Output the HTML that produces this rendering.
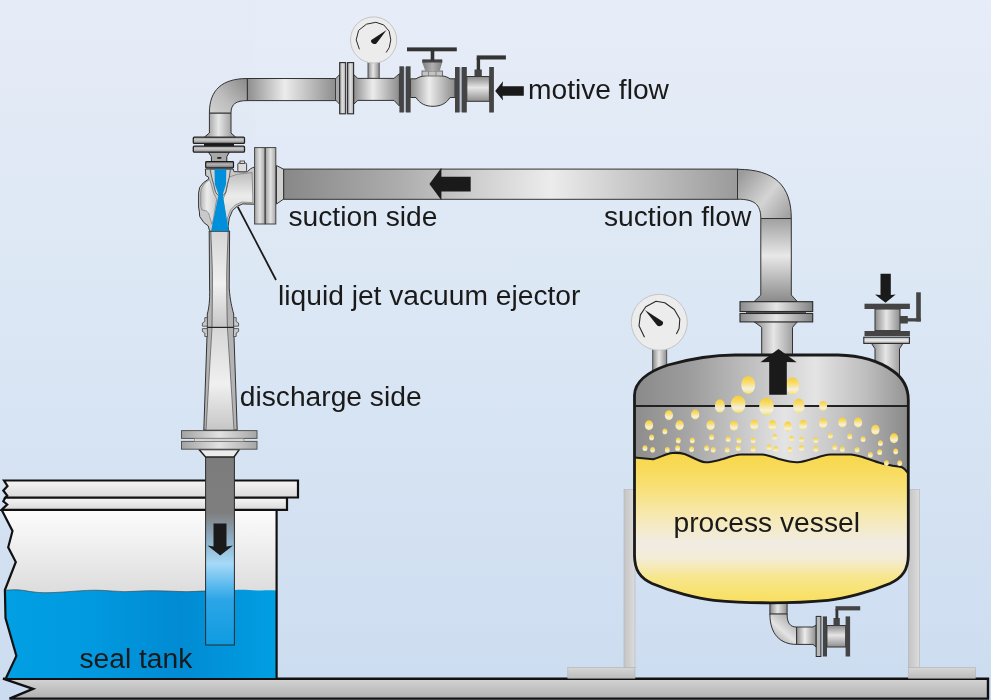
<!DOCTYPE html>
<html><head><meta charset="utf-8"><title>liquid jet vacuum ejector</title>
<style>
html,body{margin:0;padding:0;background:#dfe8f5;}
body{width:991px;height:700px;overflow:hidden;}
svg{display:block;}
svg{will-change:transform;opacity:0.9999;}
text{font-family:"Liberation Sans",sans-serif;font-size:28.2px;fill:#1a1a1a;}
</style></head><body>
<svg width="991" height="700" viewBox="0 0 991 700">
<defs>
<linearGradient id="bg" x1="0" y1="0" x2="0" y2="1">
<stop offset="0" stop-color="#e7edf8"/><stop offset="0.5" stop-color="#dae6f4"/><stop offset="1" stop-color="#ccdcf0"/>
</linearGradient>
<!-- across gradient for vertical pipes (left->right) -->
<linearGradient id="vp" x1="0" y1="0" x2="1" y2="0">
<stop offset="0" stop-color="#8a8a8a"/><stop offset="0.45" stop-color="#e6e6e6"/><stop offset="1" stop-color="#8e8e8e"/>
</linearGradient>
<linearGradient id="hp" x1="0" y1="0" x2="0" y2="1">
<stop offset="0" stop-color="#8a8a8a"/><stop offset="0.45" stop-color="#e6e6e6"/><stop offset="1" stop-color="#8e8e8e"/>
</linearGradient>
<!-- top motive pipe along-length gradient -->
<linearGradient id="topPipe" x1="0" y1="0" x2="1" y2="0">
<stop offset="0" stop-color="#8e8e8e"/><stop offset="0.42" stop-color="#ececec"/><stop offset="1" stop-color="#8c8c8c"/>
</linearGradient>
<linearGradient id="motElbow" gradientUnits="userSpaceOnUse" x1="247" y1="82" x2="213" y2="113">
<stop offset="0" stop-color="#8e8e8e"/><stop offset="0.6" stop-color="#bdbdbd"/><stop offset="1" stop-color="#cfcfcf"/>
</linearGradient>
<linearGradient id="sucPipe" gradientUnits="userSpaceOnUse" x1="283" y1="0" x2="738" y2="0">
<stop offset="0" stop-color="#888888"/><stop offset="0.257" stop-color="#adadad"/><stop offset="0.433" stop-color="#d0d0d0"/><stop offset="0.589" stop-color="#ececec"/><stop offset="0.785" stop-color="#c4c4c4"/><stop offset="1" stop-color="#9a9a9a"/>
</linearGradient>
<linearGradient id="flLight" x1="0" y1="0" x2="0" y2="1">
<stop offset="0" stop-color="#b8b8b8"/><stop offset="0.5" stop-color="#ececec"/><stop offset="1" stop-color="#a8a8a8"/>
</linearGradient>
<linearGradient id="flLightH" x1="0" y1="0" x2="1" y2="0">
<stop offset="0" stop-color="#a2a2a2"/><stop offset="0.5" stop-color="#e2e2e2"/><stop offset="1" stop-color="#a6a6a6"/>
</linearGradient>
<linearGradient id="water" gradientUnits="userSpaceOnUse" x1="5" y1="0" x2="277" y2="0">
<stop offset="0" stop-color="#009fe3"/><stop offset="0.3" stop-color="#009ae0"/><stop offset="0.64" stop-color="#008bd3"/><stop offset="0.85" stop-color="#0096dc"/><stop offset="1" stop-color="#009fe3"/>
</linearGradient>
<linearGradient id="tankAir" gradientUnits="userSpaceOnUse" x1="0" y1="510" x2="0" y2="594">
<stop offset="0" stop-color="#fcfcfc"/><stop offset="0.4" stop-color="#f0f0f0"/><stop offset="1" stop-color="#dcdcdc"/>
</linearGradient>
<linearGradient id="disPipe" gradientUnits="userSpaceOnUse" x1="0" y1="456" x2="0" y2="645">
<stop offset="0" stop-color="#7c7c7c"/><stop offset="0.3" stop-color="#7e7e7e"/><stop offset="0.44" stop-color="#8eaec4"/><stop offset="0.57" stop-color="#a6d9f8"/><stop offset="0.76" stop-color="#2ba6e7"/><stop offset="1" stop-color="#0f9be0"/>
</linearGradient>
<linearGradient id="liquid" gradientUnits="userSpaceOnUse" x1="0" y1="455" x2="0" y2="603">
<stop offset="0" stop-color="#f8d74a"/><stop offset="0.2" stop-color="#f8df70"/><stop offset="0.42" stop-color="#f6e9b4"/><stop offset="0.6" stop-color="#f1ece4"/><stop offset="0.7" stop-color="#f3ecd6"/><stop offset="0.83" stop-color="#f7e68c"/><stop offset="1" stop-color="#f9df5c"/>
</linearGradient>
<linearGradient id="vesselGas" gradientUnits="userSpaceOnUse" x1="634" y1="0" x2="908" y2="0">
<stop offset="0" stop-color="#8c8c8c"/><stop offset="0.2" stop-color="#a6a6a6"/><stop offset="0.55" stop-color="#e4e4e4"/><stop offset="0.75" stop-color="#c4c4c4"/><stop offset="1" stop-color="#8a8a8a"/>
</linearGradient>
<linearGradient id="dome" gradientUnits="userSpaceOnUse" x1="634" y1="0" x2="908" y2="0">
<stop offset="0" stop-color="#8a8a8a"/><stop offset="0.2" stop-color="#9c9c9c"/><stop offset="0.66" stop-color="#e4e4e4"/><stop offset="0.85" stop-color="#bdbdbd"/><stop offset="1" stop-color="#949494"/>
</linearGradient>
<linearGradient id="floor" x1="0" y1="0" x2="0" y2="1">
<stop offset="0" stop-color="#d4d4d4"/><stop offset="1" stop-color="#b0b0b0"/>
</linearGradient>
<linearGradient id="leg" x1="0" y1="0" x2="1" y2="0">
<stop offset="0" stop-color="#c4c4c4"/><stop offset="1" stop-color="#dcdcdc"/>
</linearGradient>
<linearGradient id="foot" x1="0" y1="0" x2="0" y2="1">
<stop offset="0" stop-color="#d6d6d6"/><stop offset="1" stop-color="#bcbcbc"/>
</linearGradient>
<linearGradient id="bub" x1="0" y1="0" x2="0" y2="1">
<stop offset="0" stop-color="#f7cc35"/><stop offset="0.35" stop-color="#f9dd6c"/><stop offset="0.72" stop-color="#f3f0e2"/><stop offset="0.9" stop-color="#f8e98e"/><stop offset="1" stop-color="#f7dc58"/>
</linearGradient>
<linearGradient id="ejBody" x1="0" y1="0" x2="1" y2="0">
<stop offset="0" stop-color="#b8b8b8"/><stop offset="0.4" stop-color="#ececec"/><stop offset="1" stop-color="#c8c8c8"/>
</linearGradient>
<linearGradient id="sucElbow" gradientUnits="userSpaceOnUse" x1="740" y1="174" x2="790" y2="214">
<stop offset="0" stop-color="#9a9a9a"/><stop offset="0.55" stop-color="#d4d4d4"/><stop offset="1" stop-color="#a2a2a2"/>
</linearGradient>
<linearGradient id="vpl" x1="0" y1="0" x2="0" y2="1">
<stop offset="0" stop-color="#a0a0a0"/><stop offset="0.45" stop-color="#e8e8e8"/><stop offset="1" stop-color="#8a8a8a"/>
</linearGradient>
<linearGradient id="flDarkH" x1="0" y1="0" x2="1" y2="0">
<stop offset="0" stop-color="#8c8c8c"/><stop offset="0.5" stop-color="#e6e6e6"/><stop offset="1" stop-color="#828282"/>
</linearGradient>
<linearGradient id="drainG" gradientUnits="userSpaceOnUse" x1="772" y1="642" x2="794" y2="616">
<stop offset="0" stop-color="#9a9a9a"/><stop offset="0.45" stop-color="#e4e4e4"/><stop offset="1" stop-color="#a0a0a0"/>
</linearGradient>
<linearGradient id="ejBodyR" x1="0" y1="0" x2="0" y2="1">
<stop offset="0" stop-color="#bdbdbd"/><stop offset="0.45" stop-color="#ececec"/><stop offset="1" stop-color="#d0d0d0"/>
</linearGradient>
<linearGradient id="diffIn" x1="0" y1="0" x2="0" y2="1">
<stop offset="0" stop-color="#d6d6d6"/><stop offset="0.55" stop-color="#f0f0f0"/><stop offset="1" stop-color="#c6c6c6"/>
</linearGradient>
<linearGradient id="bonnet" x1="0" y1="0" x2="1" y2="0">
<stop offset="0" stop-color="#7c7c7c"/><stop offset="0.5" stop-color="#b0b0b0"/><stop offset="1" stop-color="#808080"/>
</linearGradient>
<linearGradient id="flMid" x1="0" y1="0" x2="0" y2="1">
<stop offset="0" stop-color="#969696"/><stop offset="0.4" stop-color="#cacaca"/><stop offset="1" stop-color="#8e8e8e"/>
</linearGradient>
<linearGradient id="flMid2" x1="0" y1="0" x2="0" y2="1">
<stop offset="0" stop-color="#7c7c7c"/><stop offset="0.45" stop-color="#b4b4b4"/><stop offset="1" stop-color="#747474"/>
</linearGradient>
<linearGradient id="lid" x1="0" y1="0" x2="0" y2="1">
<stop offset="0" stop-color="#f6f6f6"/><stop offset="1" stop-color="#dadada"/>
</linearGradient>
</defs>
<rect width="991" height="700" fill="url(#bg)"/>

<!-- ===== floor ===== -->
<path d="M3,678.7 L988,678.7 L988,698.6 L9.5,698.6 L33,688.8 Z" fill="url(#floor)" stroke="#111" stroke-width="2.4" stroke-linejoin="miter"/>
<!-- ===== seal tank ===== -->
<!-- interior air -->
<path d="M1.6,509.8 L276.6,509.8 L276.6,678 L6,678 L16.4,656 L5.5,618 L4.9,590 L15.8,562 L8.2,547.3 L12.5,531 Z" fill="url(#tankAir)"/>
<!-- water -->
<path d="M4.9,590.3 C14,589.2 22,589.8 30,591.5 C40,593.2 50,592.8 60,592.2 C72,591.5 84,590.2 95,590.2 C110,590.2 120,592.5 135,591.3 C150,590 165,591 180,591.5 C190,592 200,591 206,591 L235,590 C245,589 255,591 262,590.5 C268,590 272,590.5 276.6,590.5 L276.6,678 L6,678 L16.4,656 L5.5,618 Z" fill="url(#water)"/>
<path d="M4.9,590.3 C14,589.2 22,589.8 30,591.5 C40,593.2 50,592.8 60,592.2 C72,591.5 84,590.2 95,590.2 C110,590.2 120,592.5 135,591.3 C150,590 165,591 180,591.5 C190,592 200,591 206,591" fill="none" stroke="#2a3a46" stroke-width="0.6"/>
<!-- tank outline: right wall + jagged left -->
<path d="M276.6,510 L276.6,678" fill="none" stroke="#111" stroke-width="2.2"/>
<path d="M1.6,509.8 L12.5,531 L8.2,547.3 L15.8,562 L4.9,590 L5.5,618 L16.4,656 L6,678" fill="none" stroke="#111" stroke-width="2.2" stroke-linejoin="miter"/>
<!-- lid plates -->
<path d="M5.5,497.5 L287,497.5 L287,509.8 L1.6,509.8 L7.2,504.5 L3.3,501.3 Z" fill="url(#lid)" stroke="#111" stroke-width="2.2"/>
<path d="M4,480.5 L298,480.5 L298,497.5 L5.5,497.5 L7.2,495.7 L3.3,490.5 L7.5,486 Z" fill="url(#lid)" stroke="#111" stroke-width="2.2"/>
<!-- ===== discharge pipe ===== -->
<rect x="205.6" y="456" width="28.8" height="189" fill="url(#disPipe)" stroke="#2a2a2a" stroke-width="1"/>
<!-- arrow down -->
<path d="M213.5,523.5 L226.5,523.5 L226.5,546.5 L233,545.5 L220.2,555.5 L207.5,545.5 L213.5,546.5 Z" fill="#1a1a1a"/>
<text x="79.5" y="667.5">seal tank</text>

<!-- ===== discharge flange + reducer ===== -->
<path d="M199,449.4 L239.4,449.4 L234,457 L205.6,457 Z" fill="#ececec" stroke="#222" stroke-width="1.5" stroke-linejoin="round"/>
<rect x="181.5" y="430.6" width="75.5" height="7.8" fill="url(#flLightH)" stroke="#555" stroke-width="1"/>
<rect x="181.5" y="441.4" width="75.5" height="7.8" fill="url(#flLightH)" stroke="#555" stroke-width="1"/>
<rect x="194.4" y="438.4" width="49.5" height="3" fill="#d6d6d6" stroke="#777" stroke-width="0.6"/>
<!-- ===== diffuser lower ===== -->
<path d="M207.3,327.4 L233.7,327.4 L237.2,430 L203.8,430 Z" fill="#b4b4b4" stroke="#333" stroke-width="1"/>
<path d="M212,327.4 L227.4,327.4 L234,430 L206,430 Z" fill="url(#diffIn)" stroke="#555" stroke-width="0.7"/>
<!-- ===== diffuser upper ===== -->
<path d="M209.2,231 L229.6,231 L229.2,288 C230,300 232,308 233.7,314 L233.7,327.4 L207.3,327.4 L207.3,314 C209,308 210,300 209.6,288 Z" fill="#b4b4b4" stroke="#333" stroke-width="1"/>
<path d="M210.8,231 L228.2,231 C227.6,250 226.8,262 226.7,276.5 C226.7,295 227,312 227.4,327.4 L212,327.4 C212.2,312 212.4,295 212.4,276.5 C212.3,262 211.4,250 210.8,231 Z" fill="url(#diffIn)" stroke="#444" stroke-width="0.7"/>
<!-- joint lugs -->
<path d="M207.3,317.6 L204.8,317.6 L204.8,321.5 L202.4,323 L202.4,326.2 L207.3,326.2 Z" fill="#c8c8c8" stroke="#444" stroke-width="0.8"/>
<path d="M207.3,328.6 L202.4,328.6 L202.4,331.5 L204.8,333 L204.8,336.5 L207.6,336.5 Z" fill="#c8c8c8" stroke="#444" stroke-width="0.8"/>
<path d="M233.7,317.6 L236.2,317.6 L236.2,321.5 L238.6,323 L238.6,326.2 L233.7,326.2 Z" fill="#c8c8c8" stroke="#444" stroke-width="0.8"/>
<path d="M233.7,328.6 L238.6,328.6 L238.6,331.5 L236.2,333 L236.2,336.5 L233.4,336.5 Z" fill="#c8c8c8" stroke="#444" stroke-width="0.8"/>
<line x1="207.3" y1="327.4" x2="233.7" y2="327.4" stroke="#222" stroke-width="1.1"/>
<!-- ===== ejector head ===== -->
<path d="M205.4,169.0 L205.7,175.6 L208.6,177.2 L208.6,179.1 L203.4,182.7 L199.7,187.4 L198.6,192.9 L198.6,207.0 L199.4,211.8 L199.7,216.5 L203.8,222.5 L208.2,225.9 L209.5,230.6 L209.5,231.2 L228.7,231.2 L228.1,226.2 L229.3,218.1 L232.5,210.5 L237.2,206.3 L242.7,203.9 L254.5,204.2 L254.5,167.1 L252.6,167.7 L250.5,168.8 L247.4,171.7 L237.2,171.7 L234.0,171.7 L233.2,169.0 Z" fill="#c9c9c9" stroke="#333" stroke-width="1" stroke-linejoin="round"/>
<path d="M209.7,179.5 L204.5,183.5 L201.3,188.5 L200.7,192.9 L200.7,206.3 L201.8,209.9 L206.5,211.0 L208.6,213.0 L210.1,218.1 L212.0,224.3 L213.6,218.1 L216.7,199.2 L213.6,192.9 L211.2,184.2 Z" fill="url(#ejBody)" stroke="#6a6a6a" stroke-width="0.6" stroke-linejoin="round"/>
<path d="M228.5,177.2 L237.2,174.3 L252.1,172.5 L252.9,202.6 L241.9,202.0 L235.6,204.7 L230.6,209.9 L227.7,217.4 L226.8,224.3 L224.9,211.8 L223.0,199.2 L225.8,192.9 L227.7,184.2 Z" fill="url(#ejBodyR)" stroke="#6a6a6a" stroke-width="0.6" stroke-linejoin="round"/>
<path d="M210.1,169.3 L230.4,169.3 L229.3,177.2 L227.4,184.2 L225.8,192.1 L223.3,195.3 L218.0,195.3 L215.5,192.1 L213.6,184.2 L211.7,177.2 Z" fill="#d2d2d2" stroke="#444" stroke-width="0.8" stroke-linejoin="round"/>
<path d="M214.5,169.3 L226.3,169.3 L226.0,184.2 L223.0,193.7 L223.0,196.0 L228.7,230.9 L211.1,230.9 L218.3,196.0 L218.3,193.7 L214.8,184.2 Z" fill="#0090db"/>
<!-- plug -->
<rect x="237.8" y="163" width="8.8" height="8.8" rx="1.2" fill="#dcdcdc" stroke="#333" stroke-width="0.9"/>
<rect x="240" y="161" width="4.5" height="2.5" fill="#dcdcdc" stroke="#333" stroke-width="0.8"/>
<!-- small dark flange under big flange -->
<path d="M208.4,152 L229.5,152 L226.8,156.6 L226.8,161.6 L211.4,161.6 L211.4,156.6 Z" fill="#a8a8a8" stroke="#2a2a2a" stroke-width="1"/>
<rect x="217.3" y="157" width="4" height="1.8" fill="#222"/>
<rect x="205.7" y="161.6" width="27.8" height="6.2" rx="0.8" fill="url(#flMid2)" stroke="#1a1a1a" stroke-width="1.2"/>
<!-- ===== top flange pair (horizontal plates) ===== -->
<rect x="204" y="143.2" width="30" height="3.2" fill="#1a1a1a"/>
<rect x="193.3" y="137.2" width="51.2" height="6.2" rx="1" fill="url(#flMid)" stroke="#222" stroke-width="1.3"/>
<rect x="193.3" y="146.2" width="51.2" height="6" rx="1" fill="url(#flMid)" stroke="#222" stroke-width="1.3"/>
<!-- ===== motive elbow + vertical ===== -->
<path d="M209.4,113 L231,113 L231,133 L235.5,137 L204.5,137 L209.4,133 Z" fill="url(#vp)" stroke="#333" stroke-width="1"/>
<path d="M247.4,78.5 C222,78.5 209.4,90 209.4,113 L231,113 C231,104 236,100.6 247.4,100.6 Z" fill="url(#motElbow)" stroke="#333" stroke-width="1"/>
<!-- ===== top horizontal pipe ===== -->
<rect x="247.4" y="78.5" width="89" height="22.1" fill="url(#topPipe)" stroke="#333" stroke-width="1"/>
<!-- ===== suction flange (vertical plates) ===== -->
<path d="M276.5,165.5 L283.7,169.3 L283.7,199 L276.5,204 Z" fill="#d0d0d0" stroke="#333" stroke-width="1"/>
<rect x="254.6" y="147.6" width="10.4" height="76.4" fill="url(#flLightH)" stroke="#444" stroke-width="1"/>
<rect x="265.4" y="147.6" width="10.4" height="76.4" fill="url(#flLightH)" stroke="#444" stroke-width="1"/>
<!-- leader line -->
<line x1="237.8" y1="206.8" x2="276" y2="280" stroke="#1a1a1a" stroke-width="1.8"/>

<!-- ===== motive line fittings ===== -->
<!-- pipe cone into flange pair 1 -->
<path d="M335.5,78.8 L339.7,74.5 L339.7,104.3 L335.5,100 Z" fill="#a8a8a8" stroke="#333" stroke-width="0.9"/>
<!-- spool between flange1 and valve -->
<path d="M353.6,74.5 L357.8,78.4 L394,78.4 L399.4,73.7 L399.4,106 L394,100.4 L357.8,100.4 L353.6,104.3 Z" fill="url(#topPipe)" stroke="#333" stroke-width="1"/>
<!-- gauge stem -->
<rect x="368" y="60" width="11.2" height="18.3" fill="url(#vp)" stroke="#444" stroke-width="0.9"/>
<!-- flange pair 1 (light) -->
<rect x="339.7" y="62.6" width="6" height="51.2" fill="url(#flLightH)" stroke="#2a2a2a" stroke-width="1.1"/>
<rect x="347.6" y="62.6" width="6" height="51.2" fill="url(#flLightH)" stroke="#2a2a2a" stroke-width="1.1"/>
<!-- gauge 1 -->
<circle cx="373.6" cy="40" r="23.1" fill="#ececec" stroke="#c4c4c4" stroke-width="1"/>
<polyline points="359.4,49.3 356.2,39.9 358.6,30.4 366.4,24.2 375.9,22.3 383.7,24.9 389.2,31.2 390.8,39.9 389.2,47.7 386.1,52.5" fill="none" stroke="#2a2a2a" stroke-width="1" stroke-linejoin="round"/>
<path d="M386.6,30.1 L376.4,43.4 C374.4,45.2 369.8,42.6 371.3,40 Z" fill="#1a1a1a"/>
<!-- valve body -->
<path d="M410.5,78.8 L416,78.8 C421,75.5 428,75.3 433,75.3 C438,75.3 446,75.5 450,78.8 L455,78.8 L455,97.5 L450,97.5 C446,104 440,106.3 433,106.3 C426,106.3 420,104 416,97.5 L410.5,97.5 Z" fill="url(#topPipe)" stroke="#333" stroke-width="1"/>
<!-- bonnet -->
<rect x="422" y="71" width="20.5" height="5" fill="#c4c4c4" stroke="#555" stroke-width="0.8"/>
<line x1="428.5" y1="71" x2="428.5" y2="76" stroke="#777" stroke-width="0.8"/>
<line x1="436" y1="71" x2="436" y2="76" stroke="#777" stroke-width="0.8"/>
<path d="M422.3,59.5 L442.2,59.5 L442.2,62.5 L439.6,71.3 L425.4,71.3 L422.3,62.5 Z" fill="url(#bonnet)"/><rect x="422.3" y="59.5" width="19.9" height="3" fill="#444"/>
<rect x="430.7" y="50.5" width="3.6" height="10" fill="#333"/>
<rect x="407" y="47.4" width="49.8" height="3.9" fill="#333"/>
<!-- dark flange pair 2 -->
<rect x="403.5" y="67" width="2.6" height="45" fill="#bcc6d8"/>
<rect x="399.4" y="66.3" width="4.5" height="46.2" fill="#444"/>
<rect x="405.8" y="66.3" width="4.8" height="46.2" fill="#444"/>
<!-- dark flange pair 3 -->
<rect x="459" y="67.5" width="3" height="44.5" fill="#bcc6d8"/>
<rect x="455" y="67" width="4.6" height="45.5" fill="#444"/>
<rect x="461.7" y="67" width="5.1" height="45.5" fill="#444"/>
<!-- cock body -->
<rect x="466.8" y="76.5" width="22.6" height="24.8" fill="url(#hp)" stroke="#333" stroke-width="1"/>
<rect x="489.2" y="67" width="4.7" height="45.5" fill="#444"/>
<!-- lever -->
<rect x="474.5" y="69.5" width="7.3" height="7" fill="#444"/>
<rect x="476.7" y="58" width="3.4" height="12" fill="#333"/>
<rect x="476.7" y="55.4" width="29.2" height="4.1" fill="#333"/>
<!-- motive arrow -->
<path d="M495.2,90.9 L503,81.3 L502.5,86.3 L523.8,86.3 L523.8,95.7 L502.5,95.7 L503,100.6 Z" fill="#1a1a1a"/>
<text x="528" y="98.6">motive flow</text>

<!-- ===== suction pipe ===== -->
<rect x="283.7" y="169.1" width="454" height="30.2" fill="url(#sucPipe)" stroke="#333" stroke-width="1"/>
<!-- suction elbow -->
<path d="M737.5,169.3 C775,169.3 791.3,186 791.3,218.5 L760.8,218.5 C760.8,204 754,199.2 737.5,199.2 Z" fill="url(#sucElbow)" stroke="#333" stroke-width="1"/>
<!-- vertical suction pipe -->
<path d="M760.8,218.5 L791.3,218.5 L791.3,295 L797.5,301.7 L754,301.7 L760.8,295 Z" fill="url(#vpl)" stroke="#333" stroke-width="1"/>
<!-- lower part to dome -->
<path d="M754,321.7 L797.5,321.7 L792.5,327.3 L792.5,358 L761.7,358 L761.7,327.3 Z" fill="url(#vp)" stroke="#333" stroke-width="1"/>
<!-- flange -->
<rect x="746" y="311.3" width="60" height="2.4" fill="#555"/>
<rect x="740" y="301.7" width="72.7" height="9.8" fill="url(#flDarkH)" stroke="#2a2a2a" stroke-width="1.1"/>
<rect x="740" y="313.5" width="72.7" height="8.4" fill="url(#flDarkH)" stroke="#2a2a2a" stroke-width="1.1"/>
<!-- suction arrow in pipe -->
<path d="M429.4,184 L441.4,167.7 L441.4,176.8 L470.7,176.8 L470.7,191.6 L441.4,191.6 L441.4,200.2 Z" fill="#1a1a1a"/>
<text x="288.5" y="226.3">suction side</text>
<text x="604" y="226.3">suction flow</text>
<text x="278" y="304.8">liquid jet vacuum ejector</text>
<text x="239.8" y="405.8">discharge side</text>

<!-- ===== legs ===== -->
<rect x="624" y="489.6" width="11" height="178.4" fill="url(#leg)" stroke="#b4b4b4" stroke-width="0.6"/>
<rect x="567.8" y="667.6" width="67.2" height="10.6" fill="url(#foot)" stroke="#b0b0b0" stroke-width="0.6"/>
<rect x="908.4" y="489.6" width="11" height="178.4" fill="url(#leg)" stroke="#b4b4b4" stroke-width="0.6"/>
<rect x="908.4" y="667.6" width="67" height="10.6" fill="url(#foot)" stroke="#b0b0b0" stroke-width="0.6"/>
<!-- ===== drain ===== -->
<rect x="769.9" y="600" width="17.2" height="14.2" fill="url(#vp)" stroke="#333" stroke-width="1"/>
<path d="M769.9,614 L787.1,614 C787.1,623 790,627 796.6,627 L796.6,644.4 C780,644.4 769.9,634 769.9,614 Z" fill="url(#drainG)" stroke="#333" stroke-width="1"/>
<path d="M796.6,627 L813,627 L816.2,625 L816.2,647 L813,644.4 L796.6,644.4 Z" fill="url(#topPipe)" stroke="#333" stroke-width="1"/>
<rect x="816.2" y="616.4" width="4.7" height="40.1" fill="#b8b8b8" stroke="#2a2a2a" stroke-width="1"/>
<rect x="822.8" y="616.4" width="4.2" height="40.1" fill="#444"/>
<rect x="826.9" y="625.5" width="18.8" height="21.5" fill="url(#hp)" stroke="#333" stroke-width="1"/>
<rect x="845.6" y="616.4" width="4.5" height="40.1" fill="#444"/>
<rect x="833.5" y="618" width="6.3" height="7.6" fill="#444"/>
<rect x="835.5" y="609" width="2.8" height="10" fill="#333"/>
<rect x="835.5" y="606.2" width="24.7" height="4.2" fill="#444"/>
<!-- ===== gauge2 stem, top valve pipe ===== -->
<rect x="652.7" y="348" width="14" height="26" fill="url(#vp)" stroke="#444" stroke-width="0.9"/>
<path d="M871.4,343.3 L903,343.3 L899.5,348.8 L899.5,380 L875,380 L875,348.8 Z" fill="url(#vp)" stroke="#333" stroke-width="1"/>
<!-- ===== vessel ===== -->
<path d="M634.5,406 L634.5,395 C635,380 650,371 668,365 C695,357.5 715,355 735,355 L838,355 C858,355.5 878,360 893,371 C903,378 908.3,388 908.3,400 L908.3,406 Z" fill="url(#dome)"/>
<rect x="634.5" y="405.5" width="273.8" height="70" fill="url(#vesselGas)"/>
<!-- liquid -->
<path d="M634.5,457.5 L653.3,459.2 C660,457.5 666,453.5 672.6,453 C677,452.7 681,453 684.5,454 C692,456.5 698,461.5 705.4,462.3 C711,462.5 717,460.5 723,459 C729,457 735,454.8 741,454.5 L762,454.5 C768,455 774,457.5 780,459.3 C786,461 792,462.5 797.7,462.3 C804,462 810,459.5 815.5,458 C820,456.5 825,454.8 830.4,454.5 L851,454.5 C856,455 861,456.5 866,458.2 C872,460 878,462.5 884,464 C890,465.5 897,466.3 902,467.2 C905,468.5 906.5,471 908.3,473.5 L908.3,555 C908.3,570 902,578 890,583.5 C870,592 845,598.5 828,600.3 C810,602 790,602.8 771,602.8 C752,602.8 732,602 714,600.3 C697,598.5 672,592 652,583.5 C640,578 634.5,570 634.5,555 Z" fill="url(#liquid)"/>
<path d="M634.5,457.5 L653.3,459.2 C660,457.5 666,453.5 672.6,453 C677,452.7 681,453 684.5,454 C692,456.5 698,461.5 705.4,462.3 C711,462.5 717,460.5 723,459 C729,457 735,454.8 741,454.5 L762,454.5 C768,455 774,457.5 780,459.3 C786,461 792,462.5 797.7,462.3 C804,462 810,459.5 815.5,458 C820,456.5 825,454.8 830.4,454.5 L851,454.5 C856,455 861,456.5 866,458.2 C872,460 878,462.5 884,464 C890,465.5 897,466.3 902,467.2 C905,468.5 906.5,471 908.3,473.5" fill="none" stroke="#1a1a1a" stroke-width="2.1" stroke-linejoin="round"/>
<line x1="634.5" y1="406" x2="908.3" y2="406" stroke="#222" stroke-width="2"/>
<ellipse cx="748.2" cy="384.9" rx="7.0" ry="9.0" fill="url(#bub)"/>
<ellipse cx="792.5" cy="385.9" rx="6.7" ry="8.7" fill="url(#bub)"/>
<ellipse cx="719.9" cy="405.9" rx="5.0" ry="6.7" fill="url(#bub)"/>
<ellipse cx="738.2" cy="404.2" rx="7.3" ry="8.7" fill="url(#bub)"/>
<ellipse cx="766.5" cy="406.5" rx="7.3" ry="8.7" fill="url(#bub)"/>
<ellipse cx="798.8" cy="405.9" rx="5.7" ry="7.3" fill="url(#bub)"/>
<ellipse cx="823.1" cy="405.9" rx="4.0" ry="5.0" fill="url(#bub)"/>
<ellipse cx="668.9" cy="415.2" rx="4.1" ry="5" fill="url(#bub)"/>
<ellipse cx="695.2" cy="414.5" rx="4.1" ry="5" fill="url(#bub)"/>
<ellipse cx="649.0" cy="425.2" rx="4.1" ry="5" fill="url(#bub)"/>
<ellipse cx="679.6" cy="425.2" rx="4.1" ry="5" fill="url(#bub)"/>
<ellipse cx="710.6" cy="425.2" rx="4.1" ry="5" fill="url(#bub)"/>
<ellipse cx="733.9" cy="425.8" rx="4.1" ry="5" fill="url(#bub)"/>
<ellipse cx="754.2" cy="424.8" rx="4.1" ry="5" fill="url(#bub)"/>
<ellipse cx="772.5" cy="425.2" rx="4.1" ry="5" fill="url(#bub)"/>
<ellipse cx="787.8" cy="426.5" rx="4.1" ry="5" fill="url(#bub)"/>
<ellipse cx="803.1" cy="424.8" rx="4.1" ry="5" fill="url(#bub)"/>
<ellipse cx="823.1" cy="423.2" rx="4.1" ry="5" fill="url(#bub)"/>
<ellipse cx="842.4" cy="422.5" rx="4.1" ry="5" fill="url(#bub)"/>
<ellipse cx="858.1" cy="422.5" rx="4.1" ry="5" fill="url(#bub)"/>
<ellipse cx="875.4" cy="429.8" rx="4.1" ry="5" fill="url(#bub)"/>
<ellipse cx="894.0" cy="438.2" rx="4.1" ry="5" fill="url(#bub)"/>
<ellipse cx="664.9" cy="431.5" rx="2.4" ry="2.9" fill="url(#bub)"/>
<ellipse cx="651.6" cy="437.5" rx="2.4" ry="2.9" fill="url(#bub)"/>
<ellipse cx="678.3" cy="440.5" rx="2.4" ry="2.9" fill="url(#bub)"/>
<ellipse cx="692.3" cy="440.5" rx="2.4" ry="2.9" fill="url(#bub)"/>
<ellipse cx="711.6" cy="437.2" rx="2.4" ry="2.9" fill="url(#bub)"/>
<ellipse cx="728.2" cy="439.2" rx="2.4" ry="2.9" fill="url(#bub)"/>
<ellipse cx="738.9" cy="440.5" rx="2.4" ry="2.9" fill="url(#bub)"/>
<ellipse cx="753.2" cy="440.5" rx="2.4" ry="2.9" fill="url(#bub)"/>
<ellipse cx="774.8" cy="437.2" rx="2.4" ry="2.9" fill="url(#bub)"/>
<ellipse cx="791.5" cy="438.8" rx="2.4" ry="2.9" fill="url(#bub)"/>
<ellipse cx="801.5" cy="439.8" rx="2.4" ry="2.9" fill="url(#bub)"/>
<ellipse cx="815.8" cy="440.5" rx="2.4" ry="2.9" fill="url(#bub)"/>
<ellipse cx="830.4" cy="435.8" rx="2.4" ry="2.9" fill="url(#bub)"/>
<ellipse cx="849.8" cy="436.5" rx="2.4" ry="2.9" fill="url(#bub)"/>
<ellipse cx="863.1" cy="439.2" rx="2.4" ry="2.9" fill="url(#bub)"/>
<ellipse cx="880.4" cy="443.2" rx="2.4" ry="2.9" fill="url(#bub)"/>
<ellipse cx="645.0" cy="448.2" rx="2.4" ry="2.9" fill="url(#bub)"/>
<ellipse cx="652.6" cy="449.8" rx="2.4" ry="2.9" fill="url(#bub)"/>
<ellipse cx="667.3" cy="449.8" rx="2.4" ry="2.9" fill="url(#bub)"/>
<ellipse cx="677.6" cy="448.2" rx="2.4" ry="2.9" fill="url(#bub)"/>
<ellipse cx="691.6" cy="449.2" rx="2.4" ry="2.9" fill="url(#bub)"/>
<ellipse cx="706.6" cy="448.2" rx="2.4" ry="2.9" fill="url(#bub)"/>
<ellipse cx="713.2" cy="449.8" rx="2.4" ry="2.9" fill="url(#bub)"/>
<ellipse cx="727.2" cy="449.8" rx="2.4" ry="2.9" fill="url(#bub)"/>
<ellipse cx="738.2" cy="448.2" rx="2.4" ry="2.9" fill="url(#bub)"/>
<ellipse cx="753.2" cy="449.2" rx="2.4" ry="2.9" fill="url(#bub)"/>
<ellipse cx="769.2" cy="447.5" rx="2.4" ry="2.9" fill="url(#bub)"/>
<ellipse cx="775.8" cy="449.2" rx="2.4" ry="2.9" fill="url(#bub)"/>
<ellipse cx="789.8" cy="449.8" rx="2.4" ry="2.9" fill="url(#bub)"/>
<ellipse cx="801.5" cy="448.2" rx="2.4" ry="2.9" fill="url(#bub)"/>
<ellipse cx="815.8" cy="449.2" rx="2.4" ry="2.9" fill="url(#bub)"/>
<ellipse cx="834.8" cy="447.5" rx="2.4" ry="2.9" fill="url(#bub)"/>
<ellipse cx="842.4" cy="449.2" rx="2.4" ry="2.9" fill="url(#bub)"/>
<ellipse cx="857.1" cy="449.8" rx="2.4" ry="2.9" fill="url(#bub)"/>
<ellipse cx="870.4" cy="454.8" rx="2.4" ry="2.9" fill="url(#bub)"/>
<ellipse cx="879.7" cy="452.2" rx="2.4" ry="2.9" fill="url(#bub)"/>
<ellipse cx="895.7" cy="451.5" rx="2.4" ry="2.9" fill="url(#bub)"/>
<ellipse cx="886.4" cy="463.1" rx="2.4" ry="2.9" fill="url(#bub)"/>
<ellipse cx="899.7" cy="463.1" rx="2.4" ry="2.9" fill="url(#bub)"/>
<!-- seam -->

<!-- re-draw bubbles over seam -->
<!-- vessel outline -->
<path d="M634.5,557 L634.5,395 C635,380 650,371 668,365 C695,357.5 715,355 735,355 L838,355 C858,355.5 878,360 893,371 C903,378 908.3,388 908.3,400 L908.3,555 C908.3,570 902,578 890,583.5 C870,592 845,598.5 828,600.3 C810,602 790,602.8 771,602.8 C752,602.8 732,602 714,600.3 C697,598.5 672,592 652,583.5 C640,578 634.5,570 634.5,555 Z" fill="none" stroke="#1a1a1a" stroke-width="2.8"/>
<!-- up arrow -->
<path d="M778.5,349 L796.7,362.2 L786.8,362 L786.8,394.8 L769.2,394.8 L769.2,362 L760.4,362.2 Z" fill="#1a1a1a"/>
<!-- gauge 2 -->
<circle cx="659.3" cy="322.3" r="28" fill="#ececec" stroke="#c4c4c4" stroke-width="1"/>
<polyline points="644.5,337.3 639.0,325.8 640.4,314.9 645.8,306.7 656.0,301.3 664.8,302.7 674.3,309.5 679.8,319.0 679.1,328.5 676.4,333.9" fill="none" stroke="#2a2a2a" stroke-width="1.1" stroke-linejoin="round"/>
<path d="M644.9,309.9 L662.6,321.4 C664.5,324 660.5,327.5 657.2,325.6 Z" fill="#1a1a1a"/>
<!-- ===== top right valve ===== -->
<rect x="863.8" y="337.2" width="45.6" height="6.2" fill="url(#flLight)" stroke="#2a2a2a" stroke-width="1.1"/>
<rect x="864.5" y="331" width="45.4" height="5" fill="#444"/>
<rect x="875" y="309" width="25" height="21.6" fill="url(#vp)" stroke="#333" stroke-width="1"/>
<rect x="864.5" y="303.7" width="45.4" height="5.3" fill="#444"/>
<rect x="900" y="316" width="7.8" height="7.5" fill="#444"/>
<rect x="907" y="318.2" width="13.8" height="3.3" fill="#444"/>
<rect x="916.2" y="292.3" width="4.6" height="29.2" fill="#444"/>
<path d="M880.5,273.7 L890.8,273.7 L890.8,295 L895.7,294.4 L885.5,302.8 L875,294.4 L880.5,295 Z" fill="#1a1a1a"/>
<text x="673.5" y="532">process vessel</text>

</svg>
</body></html>
